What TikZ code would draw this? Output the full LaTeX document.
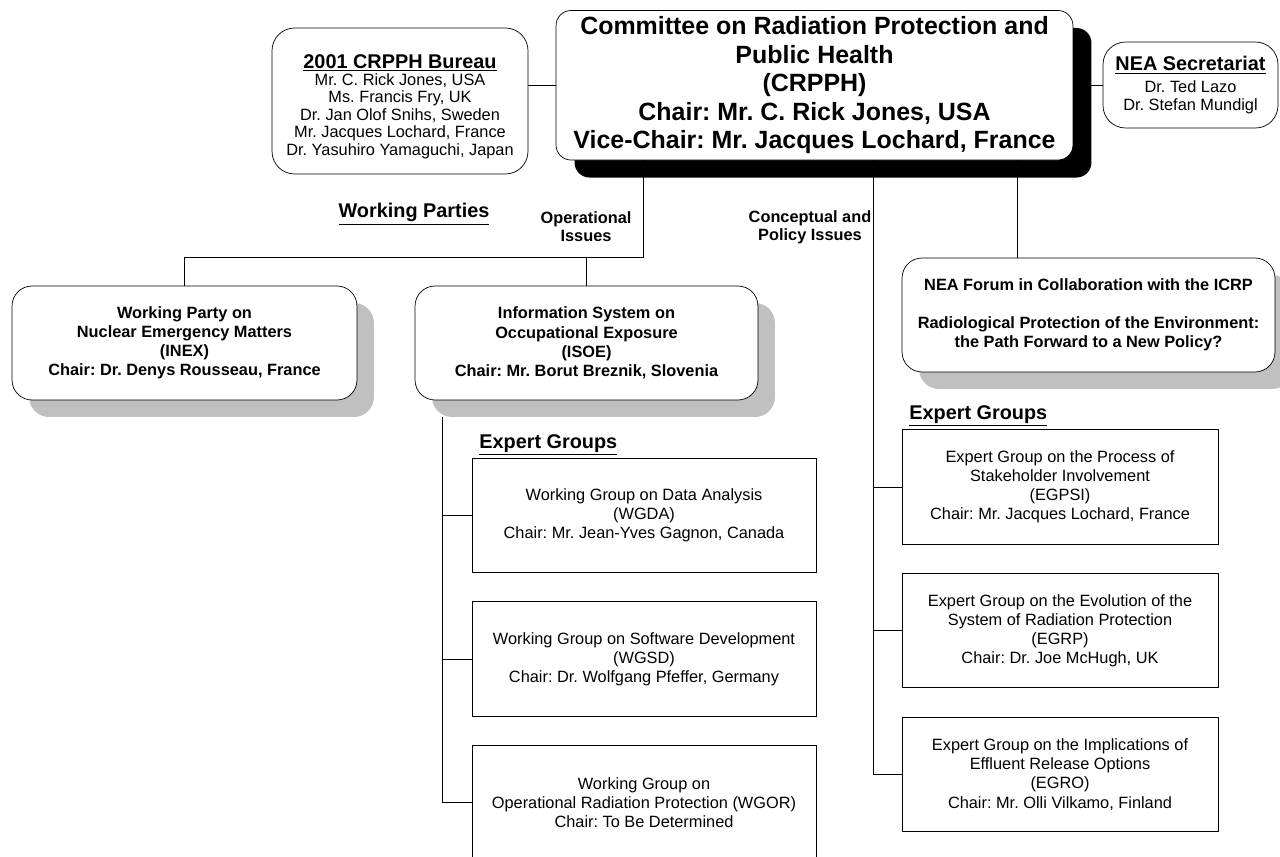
\documentclass[tikz,border=0pt]{standalone}
\usepackage{fontspec}
\setmainfont{Liberation Sans}
\usepackage{tikz}
\usetikzlibrary{shadows, positioning, calc}
\usepackage{xcolor}
\definecolor{shadowgray}{RGB}{192,192,192}
\frenchspacing

\tikzset{
  mainbox/.style={draw, rounded corners=0.3cm, fill=white, align=center,
    font=\bfseries\fontsize{14.2}{16.3}\selectfont,
    drop shadow={shadow xshift=0.37cm, shadow yshift=-0.35cm, fill=black, opacity=1}},
  infobox/.style={draw, rounded corners=0.45cm, fill=white, align=center,
    font=\fontsize{9.3}{9.9}\selectfont},
  partybox/.style={draw, rounded corners=0.4cm, fill=white, align=center, minimum height=2.28cm,
    font=\bfseries\fontsize{9.3}{10.9}\selectfont,
    drop shadow={shadow xshift=0.34cm, shadow yshift=-0.34cm, fill=shadowgray, opacity=1}},
  groupbox/.style={draw, fill=white, align=center, minimum height=2.29cm,
    font=\fontsize{9.3}{10.9}\selectfont},
  headline/.style={font=\bfseries\fontsize{11.3}{13}\selectfont},
  issue/.style={align=center, font=\bfseries\fontsize{9.3}{10.3}\selectfont},
  link/.style={line width=0.45pt}
}

\begin{document}
\begin{tikzpicture}[x=0.02cm, y=-0.02cm]
	\useasboundingbox (0,0) rectangle (1280,856);

	% committee and its neighbours
	\node[mainbox, minimum width=10.34cm, minimum height=2.91cm] (crpph) at (814.5,85.25)
		{Committee on Radiation Protection and\\Public Health\\(CRPPH)\\Chair: Mr. C. Rick Jones, USA\\Vice-Chair: Mr. Jacques Lochard, France};
	\node[infobox, minimum width=5.12cm, minimum height=2.92cm] (bureau) at (400,101)
		{\rule{0pt}{14pt}{\bfseries\fontsize{11.3}{13}\selectfont\underline{2001 CRPPH Bureau}}\\
		Mr. C. Rick Jones, USA\\Ms. Francis Fry, UK\\Dr. Jan Olof Snihs, Sweden\\Mr. Jacques Lochard, France\\Dr. Yasuhiro Yamaguchi, Japan};
	\node[infobox, font=\fontsize{9.3}{10.2}\selectfont, minimum width=3.5cm, minimum height=1.72cm] (nea) at (1190.5,85)
		{{\bfseries\fontsize{11.3}{13}\selectfont\underline{NEA Secretariat}}\\[2pt]
		Dr. Ted Lazo\\Dr. Stefan Mundigl};

	% working parties and forum
	\node[partybox, minimum width=6.9cm] (inex) at (184.5,343)
		{Working Party on\\Nuclear Emergency Matters\\(INEX)\\Chair: Dr. Denys Rousseau, France};
	\node[partybox, minimum width=6.86cm] (isoe) at (586.5,343)
		{Information System on\\Occupational Exposure\\(ISOE)\\Chair: Mr. Borut Breznik, Slovenia};
	\node[partybox, minimum width=7.46cm] (forum) at (1088.5,315)
		{NEA Forum in Collaboration with the ICRP\\[10.9pt]Radiological Protection of the Environment:\\the Path Forward to a New Policy?};

	% expert groups
	\node[groupbox, minimum width=6.88cm] (wgda) at (644,515.5)
		{Working Group on Data Analysis\\(WGDA)\\Chair: Mr. Jean-Yves Gagnon, Canada};
	\node[groupbox, minimum width=6.88cm] (wgsd) at (644,659)
		{Working Group on Software Development\\(WGSD)\\Chair: Dr. Wolfgang Pfeffer, Germany};
	\node[groupbox, minimum width=6.88cm] (wgor) at (644,802.5)
		{Working Group on\\Operational Radiation Protection (WGOR)\\Chair: To Be Determined};
	\node[groupbox, minimum width=6.32cm] (egpsi) at (1060,487)
		{Expert Group on the Process of\\Stakeholder Involvement\\(EGPSI)\\Chair: Mr. Jacques Lochard, France};
	\node[groupbox, minimum width=6.32cm] (egrp) at (1060,630.5)
		{Expert Group on the Evolution of the\\System of Radiation Protection\\(EGRP)\\Chair: Dr. Joe McHugh, UK};
	\node[groupbox, minimum width=6.32cm] (egro) at (1060,774.5)
		{Expert Group on the Implications of\\Effluent Release Options\\(EGRO)\\Chair: Mr. Olli Vilkamo, Finland};

	% headings
	\node[headline, anchor=base] (wparties) at (414,217.7) {\underline{Working Parties}};
	\node[issue] (opiss) at (586,227) {Operational\\Issues};
	\node[issue] (cpiss) at (810,227) {Conceptual and\\Policy Issues};
	\node[headline, anchor=base west, inner sep=0pt] (egleft) at (479,448) {\underline{Expert Groups}};
	\node[headline, anchor=base west, inner sep=0pt] (egright) at (909,419) {\underline{Expert Groups}};

	% joints
	\coordinate (opj) at (643,257.3);
	\coordinate (cpj) at (873,774.5);
	\coordinate (fmj) at (1017,258);
	\coordinate (egj) at (442,802.5);

	\draw[link] (crpph.west) -- (crpph.west -| bureau.east);
	\draw[link] (crpph.east) -- (crpph.east -| nea.west);
	\draw[link] (crpph.south -| opj) -- (opj) -| (inex.north);
	\draw[link] (isoe.north) -- (isoe.north |- opj);
	\draw[link] (crpph.south -| fmj) -- (forum.north -| fmj);
	\draw[link] (crpph.south -| cpj) -- (cpj) -- (egro.west);
	\draw[link] (egpsi.west) -- (egpsi.west -| cpj);
	\draw[link] (egrp.west) -- (egrp.west -| cpj);
	\draw[link] ($(isoe.south -| egj)+(0,17)$) -- (egj) -- (wgor.west);
	\draw[link] (wgda.west) -- (wgda.west -| egj);
	\draw[link] (wgsd.west) -- (wgsd.west -| egj);
\end{tikzpicture}
\end{document}
